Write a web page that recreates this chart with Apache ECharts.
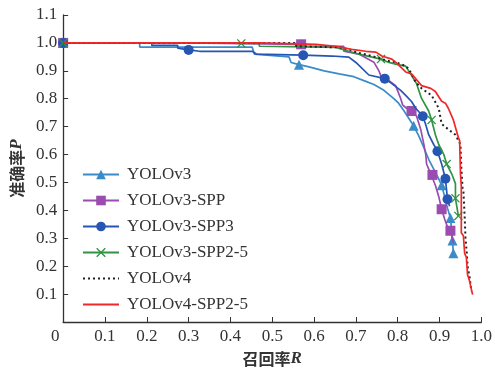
<!DOCTYPE html>
<html><head><meta charset="utf-8">
<script src="https://cdn.jsdelivr.net/npm/echarts@6/dist/echarts.min.js"></script>
<style>html,body{margin:0;padding:0;background:#fff}#c{width:495px;height:372px}</style>
</head><body><div id="c"></div>
<script>
const seriesNames = ['YOLOv3','YOLOv3-SPP','YOLOv3-SPP3','YOLOv3-SPP2-5','YOLOv4','YOLOv4-SPP2-5'];
const xTicks = [0,0.1,0.2,0.3,0.4,0.5,0.6,0.7,0.8,0.9,1.0];
const yTicks = [0.1,0.2,0.3,0.4,0.5,0.6,0.7,0.8,0.9,1.0,1.1];

const yolov3R = [0,0.183,0.183,0.452,0.457,0.54,0.545,0.564,0.588,0.624,0.66,0.695,0.719,0.743,0.767,0.79,0.802,0.814,0.826,0.838,0.85,0.862,0.874,0.886,0.898,0.905,0.912,0.919,0.926,0.929,0.931,0.933];
const yolov3P = [1.0,1.0,0.985,0.985,0.96,0.95,0.93,0.922,0.914,0.9,0.889,0.879,0.865,0.851,0.83,0.801,0.784,0.759,0.731,0.703,0.668,0.626,0.583,0.548,0.513,0.49,0.45,0.408,0.373,0.327,0.292,0.246];
const yolov3Marks = [0,7,19,25,28,30,31];

const sppR = [0,0.295,0.295,0.569,0.576,0.671,0.671,0.707,0.743,0.755,0.762,0.779,0.795,0.807,0.812,0.821,0.833,0.845,0.855,0.862,0.867,0.869,0.879,0.883,0.89,0.898,0.905,0.912,0.919,0.926,0.933];
const sppP = [1.0,1.0,0.995,0.995,0.988,0.988,0.97,0.96,0.931,0.9,0.872,0.865,0.847,0.801,0.777,0.766,0.756,0.738,0.69,0.64,0.6,0.566,0.531,0.527,0.49,0.45,0.404,0.37,0.34,0.327,0.285];
const sppMarks = [0,3,16,23,26,29];

const spp3R = [0,0.212,0.212,0.274,0.274,0.3,0.326,0.452,0.462,0.574,0.643,0.683,0.7,0.731,0.769,0.786,0.807,0.819,0.833,0.843,0.86,0.867,0.874,0.886,0.895,0.905,0.914,0.919,0.924];
const spp3P = [1.0,1.0,0.991,0.991,0.981,0.975,0.97,0.97,0.96,0.956,0.953,0.949,0.93,0.885,0.872,0.854,0.83,0.812,0.79,0.766,0.737,0.707,0.671,0.636,0.612,0.566,0.513,0.44,0.415];
const spp3Marks = [0,5,9,14,20,24,26,27];

const spp25R = [0,0.386,0.386,0.426,0.469,0.469,0.652,0.683,0.707,0.76,0.779,0.795,0.819,0.845,0.857,0.874,0.881,0.89,0.898,0.91,0.917,0.929,0.938,0.938,0.945];
const spp25P = [1.0,1.0,0.998,0.998,0.998,0.988,0.984,0.97,0.96,0.942,0.93,0.924,0.917,0.854,0.801,0.756,0.724,0.671,0.636,0.601,0.566,0.531,0.496,0.443,0.38];
const spp25Marks = [0,3,9,16,20,23,24];

const v4R = [0,0.557,0.557,0.66,0.683,0.7,0.738,0.779,0.795,0.819,0.826,0.833,0.843,0.857,0.881,0.898,0.905,0.921,0.938,0.95,0.952,0.955,0.957,0.96,0.962,0.965,0.967,0.972,0.976];
const v4P = [1.0,1.0,0.988,0.984,0.977,0.967,0.953,0.935,0.931,0.917,0.907,0.889,0.859,0.837,0.812,0.766,0.71,0.69,0.671,0.636,0.555,0.48,0.47,0.38,0.3,0.25,0.2,0.16,0.11];

const v4sppR = [0,0.469,0.469,0.605,0.652,0.69,0.724,0.748,0.762,0.786,0.795,0.819,0.833,0.857,0.879,0.89,0.905,0.914,0.921,0.933,0.945,0.948,0.95,0.952,0.952,0.957,0.96,0.964,0.967,0.971,0.979];
const v4sppP = [1.0,1.0,0.995,0.995,0.988,0.977,0.97,0.967,0.953,0.942,0.931,0.896,0.889,0.847,0.837,0.826,0.791,0.784,0.766,0.724,0.661,0.65,0.531,0.485,0.32,0.309,0.246,0.232,0.169,0.151,0.098];

const crossPath = 'path://M0,1L1,0L5,4L9,0L10,1L6,5L10,9L9,10L5,6L1,10L0,9L4,5Z';

function buildData(R, P, marks) {
  return R.map((r, i) => {
    const item = { value: [r, P[i]] };
    if (!marks || marks.indexOf(i) < 0) item.symbol = 'none';
    return item;
  });
}

const serif = "'Liberation Serif','Times New Roman','Noto Sans CJK SC',serif";
const cfg = [
  { R: yolov3R, P: yolov3P, m: yolov3Marks, color: '#3a8cc8', symbol: 'triangle', size: 10 },
  { R: sppR, P: sppP, m: sppMarks, color: '#9a4cb0', symbol: 'rect', size: 10 },
  { R: spp3R, P: spp3P, m: spp3Marks, color: '#2656b4', symbol: 'circle', size: 10 },
  { R: spp25R, P: spp25P, m: spp25Marks, color: '#2f9444', symbol: crossPath, size: 9 },
  { R: v4R, P: v4P, m: null, color: '#222222', symbol: 'none', size: 0, dotted: true },
  { R: v4sppR, P: v4sppP, m: null, color: '#f0282a', symbol: 'none', size: 0 }
];

const series = cfg.map((c, k) => ({
  name: seriesNames[k],
  type: 'line',
  data: buildData(c.R, c.P, c.m),
  symbol: c.symbol,
  symbolSize: c.size,
  showSymbol: true,
  showAllSymbol: true,
  animation: false,
  z: 2 + k,
  itemStyle: { color: c.color },
  lineStyle: { color: c.color, width: c.dotted ? 2 : 1.7, type: c.dotted ? [2, 3] : 'solid' }
}));

const legendData = seriesNames.map((n, k) => cfg[k].symbol === 'none'
  ? { name: n, itemStyle: { opacity: 0 } }
  : { name: n });

const chart = echarts.init(document.getElementById('c'));
chart.setOption({
  animation: false,
  backgroundColor: '#fff',
  grid: { left: 63, right: 12, top: 15, bottom: 44 },
  legend: {
    orient: 'vertical', left: 77, top: 161,
    itemWidth: 36, itemHeight: 12, itemGap: 9,
    data: legendData,
    textStyle: { fontFamily: serif, fontSize: 17, color: '#333', padding: [0, 0, 0, 3] }
  },
  xAxis: {
    type: 'value', min: 0, max: 1.0, interval: 0.1,
    name: '召回率{i|R}', nameLocation: 'middle', nameGap: 28,
    nameTextStyle: { fontFamily: "'Noto Sans CJK SC',serif", fontSize: 16, fontWeight: 'bold', color: '#333',
      rich: { i: { fontFamily: serif, fontStyle: 'italic', fontSize: 17, color: '#333' } } },
    axisLine: { lineStyle: { color: '#333', width: 1.3 } },
    axisTick: { inside: true, length: 5, lineStyle: { color: '#333' } },
    splitLine: { show: false },
    axisLabel: { fontFamily: serif, fontSize: 17, color: '#333', margin: 6,
      formatter: v => v === 0 ? '{z|0}' : xTicks.find(t => Math.abs(t - v) < 1e-6).toFixed(1),
      rich: { z: { fontFamily: serif, fontSize: 17, color: '#333', padding: [0, 16, 0, 0] } } }
  },
  yAxis: {
    type: 'value', min: 0, max: 1.1, interval: 0.1,
    name: '准确率{i|P}', nameLocation: 'middle', nameGap: 33, nameRotate: 90,
    nameTextStyle: { fontFamily: "'Noto Sans CJK SC',serif", fontSize: 16, fontWeight: 'bold', color: '#333',
      rich: { i: { fontFamily: serif, fontStyle: 'italic', fontSize: 17, color: '#333' } } },
    axisLine: { show: true, lineStyle: { color: '#333', width: 1.3 } },
    axisTick: { inside: true, length: 5, lineStyle: { color: '#333' } },
    splitLine: { show: false },
    axisLabel: { fontFamily: serif, fontSize: 17, color: '#333', margin: 6,
      formatter: v => { const t = yTicks.find(t => Math.abs(t - v) < 1e-6); return t === undefined ? '' : t.toFixed(1); } }
  },
  series: series
});
</script>
</body></html>
